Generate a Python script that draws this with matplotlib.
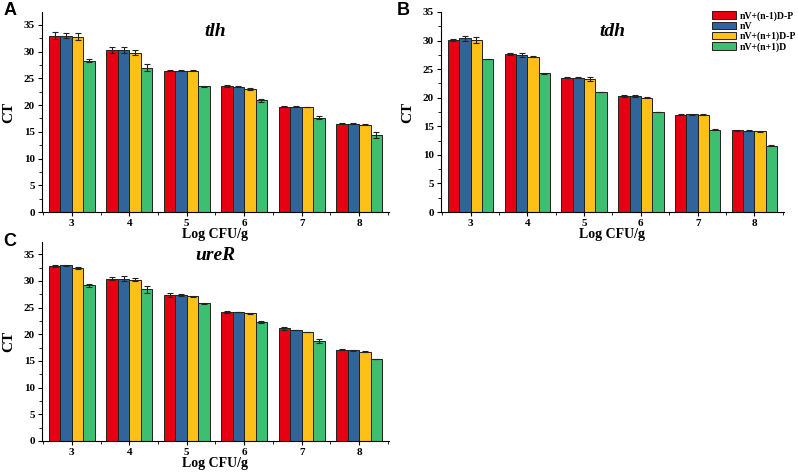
import numpy as np
import matplotlib
matplotlib.use("Agg")
import matplotlib.pyplot as plt
from matplotlib.ticker import MultipleLocator

plt.rcParams['font.family'] = ['Liberation Serif', 'DejaVu Serif']
plt.rcParams['font.weight'] = 'bold'

log_cfu = [3, 4, 5, 6, 7, 8]
series_names = ['nV+(n-1)D-P', 'nV', 'nV+(n+1)D-P', 'nV+(n+1)D']
colors = ['#E60012', '#30649B', '#FDC017', '#3DBF72']

# tlh
tlh_vals = [
    [33.0, 30.3, 26.4, 23.5, 19.7, 16.5],
    [33.0, 30.3, 26.4, 23.4, 19.7, 16.5],
    [32.8, 29.8, 26.4, 23.0, 19.6, 16.3],
    [28.3, 27.0, 23.5, 20.9, 17.6, 14.4],
]
tlh_err = [
    [0.6, 0.6, 0.1, 0.2, 0.1, 0.1],
    [0.5, 0.6, 0.1, 0.1, 0.1, 0.1],
    [0.6, 0.5, 0.1, 0.1, 0.05, 0.1],
    [0.3, 0.6, 0.05, 0.3, 0.3, 0.6],
]

# tdh
tdh_vals = [
    [30.1, 27.6, 23.5, 20.3, 17.0, 14.3],
    [30.4, 27.5, 23.5, 20.3, 17.1, 14.2],
    [30.1, 27.2, 23.3, 20.0, 17.0, 14.1],
    [26.8, 24.3, 21.0, 17.5, 14.4, 11.6],
]
tdh_err = [
    [0.1, 0.2, 0.05, 0.1, 0.1, 0.05],
    [0.4, 0.4, 0.05, 0.1, 0.05, 0.1],
    [0.5, 0.05, 0.3, 0.1, 0.1, 0.05],
    [0.05, 0.1, 0.05, 0.05, 0.1, 0.1],
]

# ureR
urer_vals = [
    [32.8, 30.4, 27.3, 24.2, 21.1, 17.1],
    [32.9, 30.4, 27.3, 24.2, 20.8, 17.0],
    [32.5, 30.2, 27.1, 23.9, 20.4, 16.7],
    [29.2, 28.4, 25.8, 22.3, 18.8, 15.4],
]
urer_err = [
    [0.2, 0.3, 0.4, 0.2, 0.3, 0.05],
    [0.05, 0.5, 0.2, 0.05, 0.05, 0.1],
    [0.2, 0.3, 0.1, 0.05, 0.05, 0.1],
    [0.3, 0.7, 0.05, 0.2, 0.4, 0.05],
]

fig = plt.figure(figsize=(7.98, 4.72), dpi=100)
ax_a = fig.add_axes([0.0526, 0.5508, 0.4349, 0.4238])
ax_b = fig.add_axes([0.5526, 0.5508, 0.4298, 0.4238])
ax_c = fig.add_axes([0.0526, 0.0657, 0.4349, 0.4216])


def draw(ax, vals, errs, title, ymax, title_y):
    x = np.array(log_cfu)
    w = 0.2
    for i in range(4):
        ax.bar(x + (i - 1.5) * w, vals[i], w, color=colors[i], edgecolor='#222222',
               linewidth=0.7, yerr=errs[i], capsize=2,
               error_kw=dict(elinewidth=0.8, capthick=0.8, ecolor='#222222'),
               label=series_names[i], zorder=2)
    ax.set_xlim(2.48, 8.52)
    ax.set_ylim(0, ymax)
    ax.set_xticks(log_cfu)
    ax.xaxis.set_minor_locator(MultipleLocator(0.5))
    ax.yaxis.set_major_locator(MultipleLocator(5))
    ax.yaxis.set_minor_locator(MultipleLocator(2.5))
    ax.tick_params(labelsize=8, length=3, width=0.8, direction='out', pad=2)
    ax.tick_params(which='minor', length=2, width=0.6)
    for t in ax.get_xticklabels() + ax.get_yticklabels():
        t.set_fontweight('bold')
    ax.spines['top'].set_visible(False)
    ax.spines['right'].set_visible(False)
    ax.set_xlabel('Log CFU/g', fontsize=10, fontweight='bold', labelpad=0)
    ax.set_ylabel('CT', fontsize=11, fontweight='bold', labelpad=6)
    ax.text(0.5, title_y, title, transform=ax.transAxes, ha='center', va='center',
            fontsize=14, fontweight='bold', fontstyle='italic')


draw(ax_a, tlh_vals, tlh_err, 'tlh', 37.4, 0.90)
draw(ax_b, tdh_vals, tdh_err, 'tdh', 35, 0.90)
draw(ax_c, urer_vals, urer_err, 'ureR', 37.3, 0.93)

fig.legend(*ax_b.get_legend_handles_labels(), loc='upper left',
           bbox_to_anchor=(712 / 798, 1 - 11 / 472), frameon=False,
           handlelength=2.5, handleheight=0.8, labelspacing=0.1, handletextpad=0.3,
           borderaxespad=0, borderpad=0,
           prop={'size': 7, 'weight': 'bold', 'family': 'Liberation Serif'})

for lbl, (fx, fy) in zip(['A', 'B', 'C'], [(0.004, 0.995), (0.497, 0.995), (0.004, 0.507)]):
    fig.text(fx, fy, lbl, fontsize=13, fontweight='bold', family='Liberation Sans',
             ha='left', va='top')

fig.savefig('out.png', dpi=100)
